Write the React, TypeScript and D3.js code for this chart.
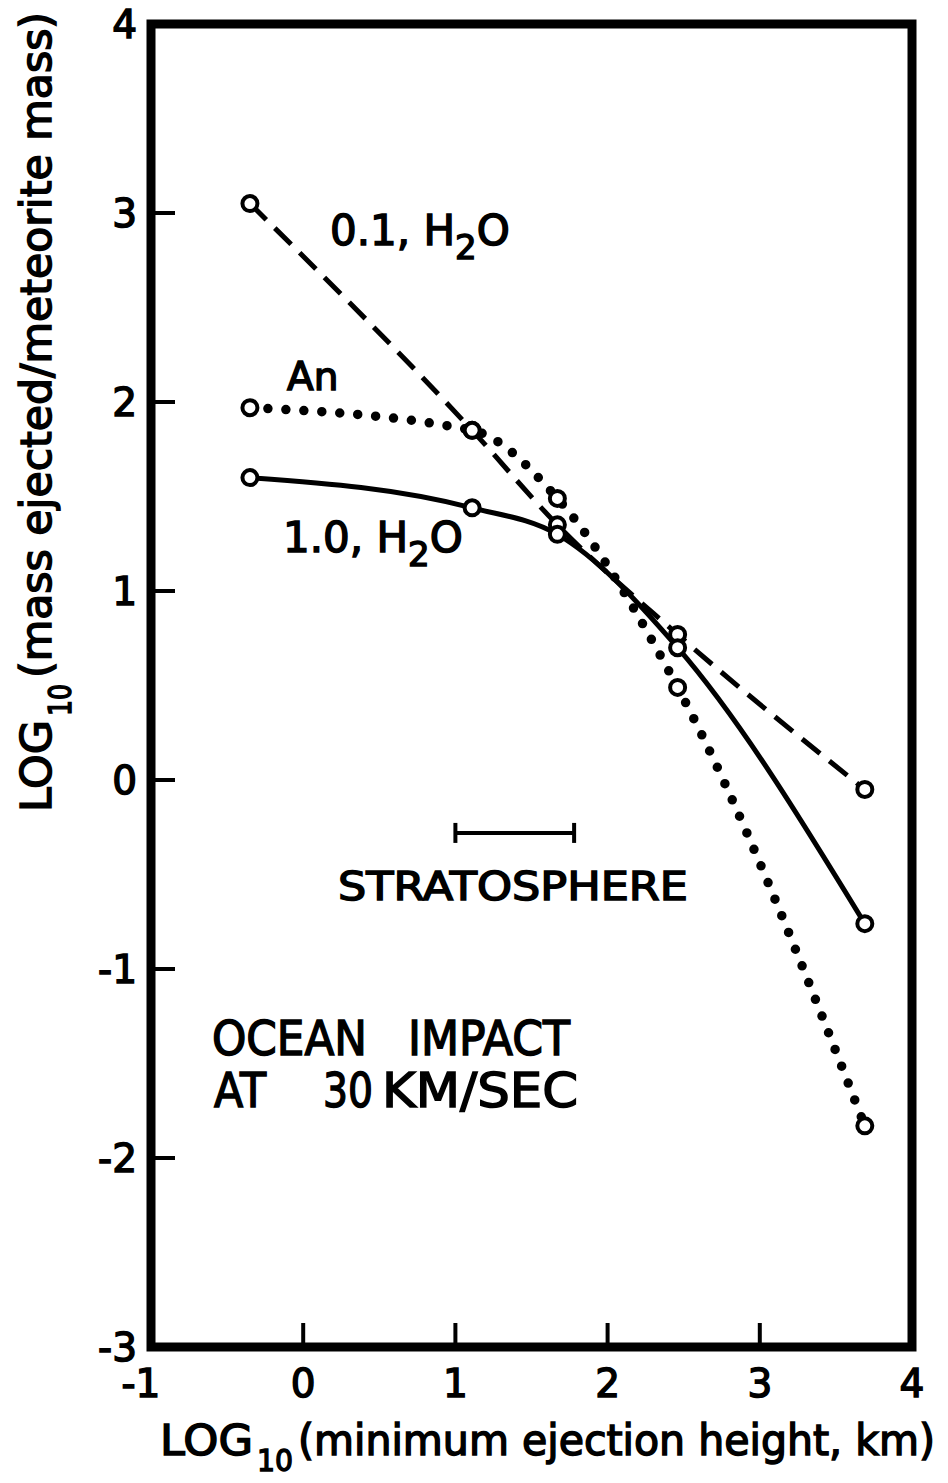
import React from 'react';
import * as d3 from 'd3';

// ---- data ----
const xTickValues = [-1, 0, 1, 2, 3, 4];
const yTickValues = [4, 3, 2, 1, 0, -1, -2, -3];
const xInnerTicks = [0, 1, 2, 3];
const yInnerTicks = [3, 2, 1, 0, -1, -2];

const heightLog = [-0.35, 1.11, 1.67, 2.46, 3.69];
const series01H2O = [3.05, 1.85, 1.35, 0.77, -0.05];
const series10H2O = [1.6, 1.44, 1.3, 0.7, -0.76];
const seriesAn = [1.97, 1.85, 1.49, 0.49, -1.83];

const stratosphereRange = [1.0, 1.78];
const stratosphereLevel = -0.28;

const W = 948;
const H = 1483;
const FONT = '"DejaVu Sans", "Noto Sans", sans-serif';

export default function App() {
  const x = d3.scaleLinear().domain([-1, 4]).range([151, 912]);
  const y = d3.scaleLinear().domain([-3, 4]).range([1347, 24]);

  const line = d3
    .line<[number, number]>()
    .x((d) => x(d[0]))
    .y((d) => y(d[1]))
    .curve(d3.curveMonotoneX);

  const mk = (vals: number[]) => heightLog.map((h, i) => [h, vals[i]] as [number, number]);

  const series = [
    { key: 'dash', pts: mk(series01H2O), dash: '23 12', width: 5, cap: 'butt' },
    { key: 'solid', pts: mk(series10H2O), dash: undefined, width: 5, cap: 'butt' },
    { key: 'dot', pts: mk(seriesAn), dash: '0 18', width: 9.5, cap: 'round' },
  ];

  const txt = { fontFamily: FONT, fill: '#000', stroke: '#000', strokeWidth: 1.5 } as const;

  const [x0, x1] = [x(-1), x(4)];
  const [yTop, yBot] = [y(4), y(-3)];

  return (
    <svg
      width={W}
      height={H}
      viewBox={`0 0 ${W} ${H}`}
      style={{ position: 'absolute', left: 0, top: 0, background: '#fff' }}
    >
      <rect x={0} y={0} width={W} height={H} fill="#fff" />

      {/* frame */}
      <rect x={x0} y={yTop} width={x1 - x0} height={yBot - yTop} fill="none" stroke="#000" strokeWidth={9} />

      {/* inner ticks */}
      {yInnerTicks.map((t) => (
        <line key={'yt' + t} x1={x0} x2={x0 + 24} y1={y(t)} y2={y(t)} stroke="#000" strokeWidth={4} />
      ))}
      {xInnerTicks.map((t) => (
        <line key={'xt' + t} x1={x(t)} x2={x(t)} y1={yBot} y2={yBot - 24} stroke="#000" strokeWidth={4} />
      ))}

      {/* tick labels */}
      {yTickValues.map((t) => (
        <text key={'yl' + t} x={137} y={y(t) + 14} textAnchor="end" fontSize={39} {...txt}>
          {t < 0 ? '-' + Math.abs(t) : String(t)}
        </text>
      ))}
      {xTickValues.map((t) => (
        <text
          key={'xl' + t}
          x={x(t) + (t < 0 ? -10 : 0)}
          y={1397}
          textAnchor="middle"
          fontSize={39}
          {...txt}
        >
          {t < 0 ? '-' + Math.abs(t) : String(t)}
        </text>
      ))}

      {/* x axis title */}
      <text x={160} y={1455} fontSize={43} textLength={93} lengthAdjust="spacingAndGlyphs" {...txt}>
        LOG
      </text>
      <text x={257} y={1471} fontSize={31} textLength={36} lengthAdjust="spacingAndGlyphs" {...txt}>
        10
      </text>
      <text x={298} y={1455} fontSize={42} textLength={637} lengthAdjust="spacingAndGlyphs" {...txt}>
        (minimum ejection height, km)
      </text>

      {/* y axis title */}
      <g transform="translate(51,812) rotate(-90)">
        <text x={0} y={0} fontSize={43} textLength={92} lengthAdjust="spacingAndGlyphs" {...txt}>
          LOG
        </text>
        <text x={96} y={20} fontSize={32} textLength={32} lengthAdjust="spacingAndGlyphs" {...txt}>
          10
        </text>
        <text x={134} y={0} fontSize={42} textLength={666} lengthAdjust="spacingAndGlyphs" {...txt}>
          (mass ejected/meteorite mass)
        </text>
      </g>

      {/* curves */}
      {series.map((s) => (
        <path
          key={s.key}
          d={line(s.pts) || ''}
          fill="none"
          stroke="#000"
          strokeWidth={s.width}
          strokeDasharray={s.dash}
          strokeLinecap={s.cap as any}
        />
      ))}
      {series.map((s) =>
        s.pts.map((p, i) => (
          <circle
            key={s.key + i}
            cx={x(p[0])}
            cy={y(p[1])}
            r={7.5}
            fill="#fff"
            stroke="#000"
            strokeWidth={4}
          />
        ))
      )}

      {/* curve labels */}
      <text x={330} y={245} fontSize={42} {...txt}>
        0.1, H<tspan fontSize={34} dy={14}>2</tspan>
        <tspan dy={-14}>O</tspan>
      </text>
      <text x={287} y={390} fontSize={39} {...txt}>
        An
      </text>
      <text x={283} y={552} fontSize={42} {...txt}>
        1.0, H<tspan fontSize={34} dy={14}>2</tspan>
        <tspan dy={-14}>O</tspan>
      </text>

      {/* stratosphere bar */}
      <line
        x1={x(stratosphereRange[0])}
        x2={x(stratosphereRange[1])}
        y1={y(stratosphereLevel)}
        y2={y(stratosphereLevel)}
        stroke="#000"
        strokeWidth={4}
      />
      {stratosphereRange.map((v) => (
        <line
          key={'sb' + v}
          x1={x(v)}
          x2={x(v)}
          y1={y(stratosphereLevel) - 10}
          y2={y(stratosphereLevel) + 10}
          stroke="#000"
          strokeWidth={4}
        />
      ))}
      <text x={338} y={900} fontSize={39} textLength={350} lengthAdjust="spacingAndGlyphs" {...txt}>
        STRATOSPHERE
      </text>

      {/* annotation */}
      <text x={212} y={1055} fontSize={48} textLength={155} lengthAdjust="spacingAndGlyphs" {...txt}>
        OCEAN
      </text>
      <text x={408} y={1055} fontSize={48} textLength={162} lengthAdjust="spacingAndGlyphs" {...txt}>
        IMPACT
      </text>
      <text x={214} y={1107} fontSize={48} textLength={52} lengthAdjust="spacingAndGlyphs" {...txt}>
        AT
      </text>
      <text x={323} y={1107} fontSize={48} textLength={50} lengthAdjust="spacingAndGlyphs" {...txt}>
        30
      </text>
      <text x={382} y={1107} fontSize={48} textLength={196} lengthAdjust="spacingAndGlyphs" {...txt}>
        KM/SEC
      </text>
    </svg>
  );
}
